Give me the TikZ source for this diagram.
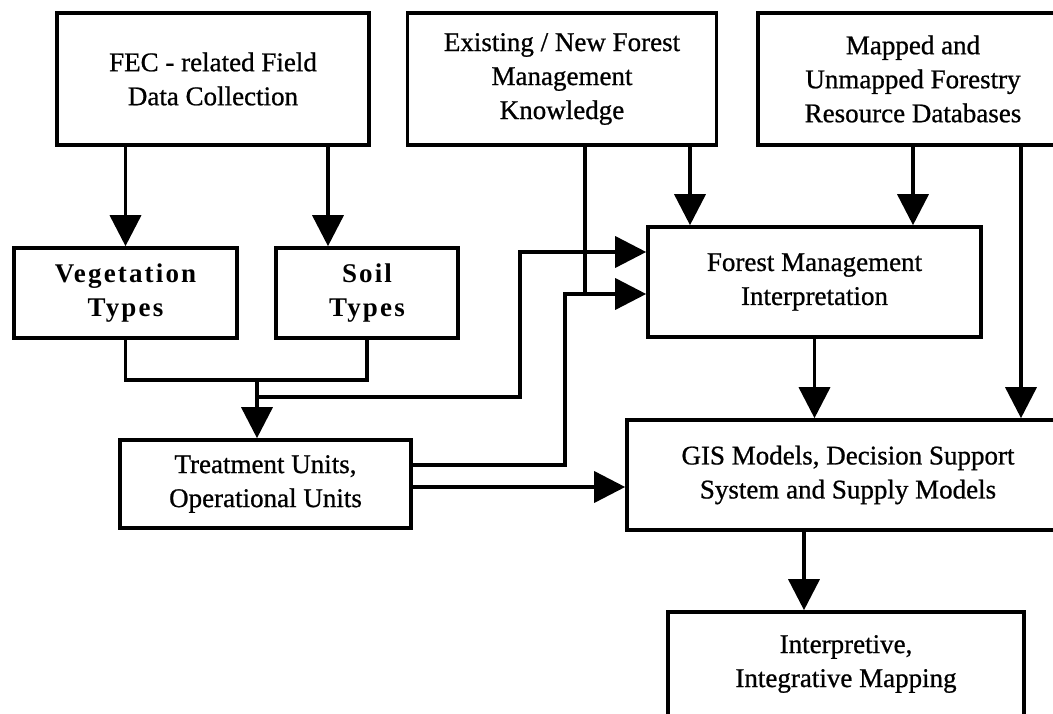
\documentclass[tikz,border=0pt]{standalone}
\usepackage{fontspec}
\setmainfont[FakeBold=0.8]{Liberation Serif}
\newfontfamily\spacedrm[LetterSpace=8]{Liberation Serif}
\usetikzlibrary{arrows.meta,calc}

\begin{document}
\begin{tikzpicture}[
    x=1pt, y=-1pt,
    >={Triangle[length=31pt, width=31pt]},
    wire/.style={line width=3.6pt},
    feed/.style={wire, ->},
    proc/.style={draw, line width=3.6pt, align=center, inner sep=0pt,
                 font=\fontsize{27}{34}\selectfont},
    kind/.style={proc, font=\fontsize{27}{34}\selectfont\spacedrm\bfseries},
  ]
  \clip (0,0) rectangle (1053,714);

  % top row
  \node[proc, minimum width=312pt, minimum height=132pt] (fec) at (213,79)
       {FEC - related Field\\Data Collection};
  \node[proc, minimum width=309pt, minimum height=132pt] (know) at (562,79)
       {Existing / New Forest\\Management\\Knowledge};
  \node[proc, minimum width=310pt, minimum height=132pt] (data) at (913,79)
       {Mapped and\\Unmapped Forestry\\Resource Databases};

  % middle
  \node[kind, minimum width=223pt, minimum height=90pt] (veg) at (125.5,293)
       {Vegetation\\Types};
  \node[kind, minimum width=182pt, minimum height=90pt] (soil) at (367,293)
       {Soil\\Types};
  \node[proc, minimum width=333pt, minimum height=110pt] (fmi) at (814.5,282)
       {Forest Management\\Interpretation};
  \node[proc, minimum width=291pt, minimum height=88pt] (treat) at (265.5,484)
       {Treatment Units,\\Operational Units};
  \node[proc, minimum width=442pt, minimum height=110pt] (gis) at (848,475)
       {GIS Models, Decision Support\\System and Supply Models};
  \node[proc, minimum width=356pt, minimum height=104pt] (map) at (846,664)
       {Interpretive,\\Integrative Mapping};

  \coordinate (jn) at (257,380);
  \coordinate (fa) at ($(fmi.west)+(0,-30)$);
  \coordinate (fb) at ($(fmi.west)+(0,12)$);
  \coordinate (k1) at ($(know.south)+(23,0)$);
  \coordinate (k2) at ($(know.south)+(128,0)$);
  \coordinate (d1) at ($(data.south)+(108,0)$);
  \coordinate (t2) at ($(treat.east)+(0,3)$);
  \coordinate (g1) at ($(gis.south)+(-44,0)$);

  \draw[feed] (veg.north |- fec.south) -- (veg.north);
  \draw[feed] ($(soil.north |- fec.south)+(-39,0)$) -- ($(soil.north)+(-39,0)$);
  \draw[wire] (veg.south) |- (jn) -| (soil.south);
  \draw[feed] (jn) -- (jn |- treat.north);

  \draw[feed] ($(jn)+(0,17)$) -- ++(263,0) |- (fa);
  \draw[feed] ($(treat.east)+(0,-19)$) -- ++(152,0) |- (fb);
  \draw[wire] (k1) -- (k1 |- fb);
  \draw[feed] (k2) -- (k2 |- fmi.north);
  \draw[feed] (data.south) -- (data.south |- fmi.north);

  \draw[feed] (fmi.south) -- (fmi.south |- gis.north);
  \draw[feed] (d1) -- (d1 |- gis.north);
  \draw[feed] (t2) -- (t2 -| gis.west);
  \draw[feed] (g1) -- (g1 |- map.north);
\end{tikzpicture}
\end{document}
